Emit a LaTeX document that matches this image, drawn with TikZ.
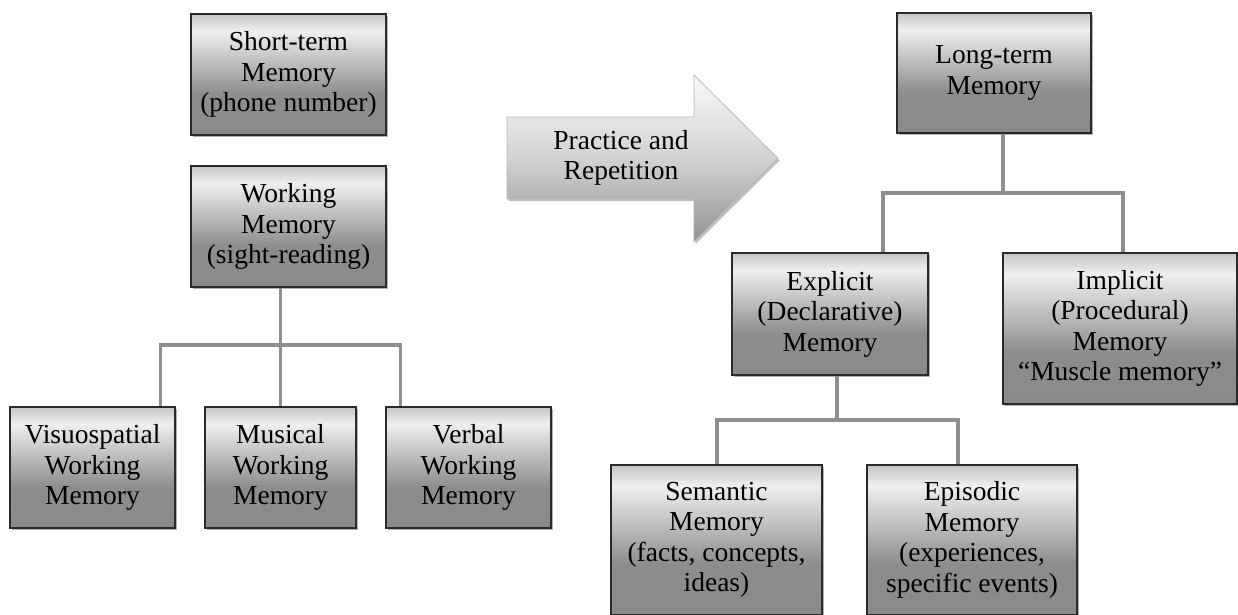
\documentclass[tikz,border=0pt]{standalone}
\usepackage{fontspec}
\setmainfont{Liberation Serif}
\usetikzlibrary{calc,shadows}
\definecolor{boxbot}{HTML}{8A8A8A}
\definecolor{boxmid}{HTML}{8D8D8D}
\definecolor{boxlight}{HTML}{EFEFEF}
\definecolor{boxtop}{HTML}{C6C6C6}
\definecolor{boxline}{HTML}{2A2A2A}
\definecolor{connc}{HTML}{8E8E8E}
\definecolor{arrtop}{HTML}{FAFAFA}
\definecolor{arrmid}{HTML}{D2D2D2}
\definecolor{arrbot}{HTML}{939393}
\definecolor{arrline}{HTML}{B8B8B8}
\pgfdeclareverticalshading{boxshade}{100bp}{color(0bp)=(boxbot); color(25bp)=(boxbot); color(42bp)=(boxmid); color(68bp)=(boxlight); color(75bp)=(boxtop); color(100bp)=(boxtop)}
\pgfdeclareverticalshading{arrshade}{100bp}{color(0bp)=(arrbot); color(25bp)=(arrbot); color(50bp)=(arrmid); color(75bp)=(arrtop); color(100bp)=(arrtop)}
\tikzset{
  memb/.style={draw=boxline, line width=1.2pt, shading=boxshade, rectangle,
    align=center, inner sep=0pt, font=\fontsize{27.5}{30.5}\selectfont,
    drop shadow={shadow xshift=1.5pt, shadow yshift=-2pt, opacity=0.3, fill=black}},
  conn/.style={draw=connc, line width=3.5pt, line join=miter},
  txt/.style={align=center, font=\fontsize{27.5}{30.5}\selectfont, inner sep=0pt}
}
\begin{document}
\begin{tikzpicture}[x=1pt,y=-1pt]
\useasboundingbox[fill=white] (0,0) rectangle (1238,614);
% left tree
\node[memb, minimum width=195, minimum height=121] (st) at (288.5,74.5) {Short-term\\Memory\\(phone number)};
\node[memb, minimum width=195, minimum height=121] (wm) at (288.5,226.5) {Working\\Memory\\(sight-reading)};
\node[memb, minimum width=165, minimum height=121] (vis) at (92.5,467.5) {Visuospatial\\Working\\Memory};
\node[memb, minimum width=151, minimum height=121] (mus) at (280.5,467.5) {Musical\\Working\\Memory};
\node[memb, minimum width=165, minimum height=121] (verb) at (468.5,467.5) {Verbal\\Working\\Memory};
\coordinate (lj) at (280.5,345);
\draw[conn] (wm.south -| mus.north) -- (lj) -- (mus.north);
\draw[conn] ($(vis.north east)+(-15,0)$) |- (lj) -| ($(verb.north west)+(15,0)$);
% arrow
\path[draw=arrline, line width=0.8pt, shading=arrshade,
  drop shadow={shadow xshift=1.5pt, shadow yshift=-2pt, opacity=0.25, fill=black}]
  (507,117) -- (694,117) -- (694,75) -- (778,158.5) -- (694,242) -- (694,199) -- (507,199) -- cycle;
\node[txt] (pr) at (621,158) {Practice and\\Repetition};
% right tree
\node[memb, minimum width=194, minimum height=120] (lt) at (994,73) {Long-term\\Memory};
\node[memb, minimum width=196, minimum height=122] (exp) at (830,314) {Explicit\\(Declarative)\\Memory};
\node[memb, minimum width=234, minimum height=151] (imp) at (1120,328.5) {Implicit\\(Procedural)\\Memory\\“Muscle memory”};
\node[memb, minimum width=211, minimum height=150] (sem) at (716.5,540) {Semantic\\Memory\\(facts, concepts,\\ideas)};
\node[memb, minimum width=210, minimum height=150] (epi) at (972,540) {Episodic\\Memory\\(experiences,\\specific events)};
\coordinate (rj) at (1003,193);
\coordinate (ej) at (837,420);
\draw[conn] ($(lt.south)+(9,0)$) -- (rj);
\draw[conn] ($(exp.north)+(53,0)$) |- (rj) -| ($(imp.north)+(3,0)$);
\draw[conn] ($(exp.south)+(7,0)$) -- (ej);
\draw[conn] ($(sem.north)+(0.5,0)$) |- (ej) -| ($(epi.north)+(-14,0)$);
\end{tikzpicture}
\end{document}
